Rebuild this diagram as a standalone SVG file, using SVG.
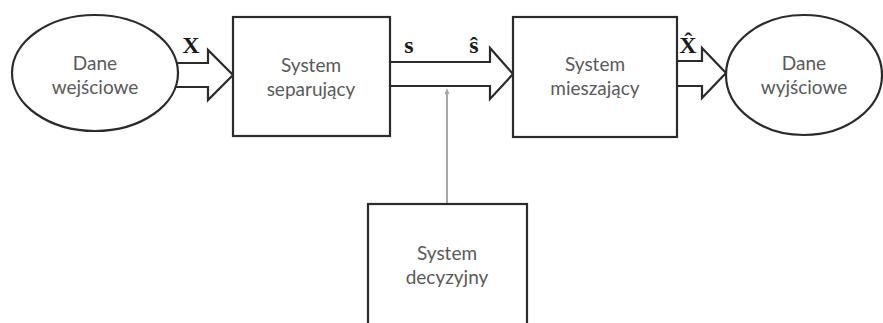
<svg xmlns="http://www.w3.org/2000/svg" width="883" height="323" viewBox="0 0 883 323">
  <style>
    .shape { fill: #fff; stroke: #2b2b2b; stroke-width: 2.2; }
    .block { fill: #fff; stroke: #2b2b2b; stroke-width: 2.2; stroke-linejoin: miter; }
    .lbl { font-family: Lato, "Open Sans", sans-serif; font-size: 19px; fill: #5a5a5a; text-anchor: middle; }
    .sym { font-family: "Liberation Serif", "Times New Roman", serif; font-size: 24px; font-weight: bold; fill: #1a1a1a; text-anchor: middle; }
    .ctl { stroke: #a8a8a8; stroke-width: 2; fill: none; }
  </style>
  <defs>
    <marker id="tip" markerWidth="6" markerHeight="6" refX="3" refY="3" orient="auto" markerUnits="userSpaceOnUse">
      <path d="M0,0.5 L6,3 L0,5.5 Z" fill="#a8a8a8"/>
    </marker>
  </defs>

  <rect width="883" height="323" fill="#fff"/>

  <g id="connectors">
    <!-- block arrows between the stages -->
    <path class="block" d="M176,63 L208,63 L208,50 L233,75 L208,100 L208,87 L176,87"/>
    <path class="block" d="M390,62 L490,62 L490,48 L513,74 L490,99 L490,86 L390,86"/>
    <path class="block" d="M677,61 L702,61 L702,48 L726,73 L702,98 L702,86 L677,86"/>
    <!-- control line from the decision system -->
    <line class="ctl" x1="447" y1="204" x2="447" y2="91" marker-end="url(#tip)"/>
  </g>

  <g id="symbols">
    <text class="sym" x="191" y="53">X</text>
    <text class="sym" x="409" y="53">s</text>
    <text class="sym" x="474" y="53">ŝ</text>
    <text class="sym" x="688" y="53">X̂</text>
  </g>

  <g id="input-data">
    <ellipse class="shape" cx="95" cy="73" rx="83" ry="58"/>
    <text class="lbl" x="95" y="70">Dane</text>
    <text class="lbl" x="95" y="94">wejściowe</text>
  </g>

  <g id="separating-system">
    <rect class="shape" x="233" y="17" width="157" height="119"/>
    <text class="lbl" x="311" y="72">System</text>
    <text class="lbl" x="311" y="96">separujący</text>
  </g>

  <g id="mixing-system">
    <rect class="shape" x="513" y="17" width="164" height="120"/>
    <text class="lbl" x="595" y="71">System</text>
    <text class="lbl" x="595" y="95">mieszający</text>
  </g>

  <g id="output-data">
    <ellipse class="shape" cx="804" cy="75" rx="78" ry="60"/>
    <text class="lbl" x="804" y="70">Dane</text>
    <text class="lbl" x="804" y="94">wyjściowe</text>
  </g>

  <g id="decision-system">
    <rect class="shape" x="368" y="204" width="159" height="130"/>
    <text class="lbl" x="447" y="260">System</text>
    <text class="lbl" x="447" y="284">decyzyjny</text>
  </g>
</svg>
